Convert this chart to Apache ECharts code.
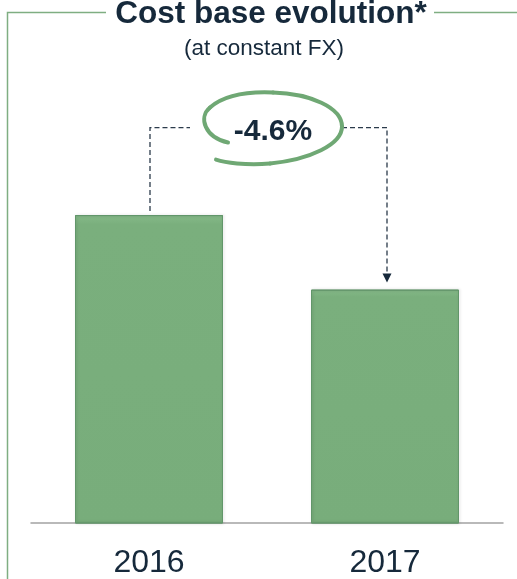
<!DOCTYPE html>
<html>
<head>
<meta charset="utf-8">
<script src="https://cdn.jsdelivr.net/npm/echarts@6/dist/echarts.min.js"></script>
<style>
html,body{margin:0;padding:0;background:#fff;}
#c{width:517px;height:579px;}
</style>
</head>
<body>
<div id="c"></div>
<script>
// Data
const categories = ['2016', '2017'];
const costIndex = [100, 95.4];          // cost base, indexed (2016 = 100)
const changeLabel = '-4.6%';
const axisMin = 81;
const axisMax = 107.1;
const connectorLevel = 105.4;           // level (in axis units) of the dashed connector

const titleText = 'Cost base evolution*';
const subtitleText = '(at constant FX)';

const dark = '#16293b';
const frameGreen = '#7fae82';

const chart = echarts.init(document.getElementById('c'), null, {renderer: 'canvas'});

const option = {
  animation: false,
  backgroundColor: '#fff',
  grid: {left: 31, right: 14, top: 100, bottom: 56, containLabel: false},
  xAxis: {
    type: 'category',
    data: categories,
    axisLine: {show: true, lineStyle: {color: '#a3a3a3', width: 1.5}},
    axisTick: {show: false},
    axisLabel: {color: dark, fontSize: 32, fontFamily: 'Liberation Sans, Arial, sans-serif', margin: 24}
  },
  yAxis: {
    type: 'value', min: axisMin, max: axisMax, show: false,
    splitLine: {show: false}
  },
  series: [{
    type: 'bar',
    data: costIndex,
    barWidth: 148,
    itemStyle: {
      color: {
        type: 'linear', x: 0, y: 0, x2: 0, y2: 1,
        colorStops: [{offset: 0, color: '#86ba89'}, {offset: 0.03, color: '#7aaf7d'}, {offset: 1, color: '#78ad7b'}]
      },
      borderColor: '#62966a',
      borderWidth: 1,
      shadowColor: 'rgba(0,0,0,0.18)',
      shadowBlur: 3,
      shadowOffsetX: 1,
      shadowOffsetY: 0
    },
    z: 2
  }]
};
chart.setOption(option);

function buildGraphics() {
  const p0 = chart.convertToPixel({xAxisIndex: 0, yAxisIndex: 0}, [0, costIndex[0]]);
  const p1 = chart.convertToPixel({xAxisIndex: 0, yAxisIndex: 0}, [1, costIndex[1]]);
  const lvl = chart.convertToPixel({yAxisIndex: 0}, connectorLevel);
  const cx = 273, cy = lvl;  // ellipse centre
  const x0 = p0[0] + 1, x1 = p1[0] + 2;
  const dash = {stroke: '#2b3b4b', lineWidth: 1.3, lineDash: [5, 3]};
  const els = [];
  // frame
  els.push({type: 'polyline', shape: {points: [[106, 12.5], [7.5, 12.5], [7.5, 579]]}, style: {stroke: frameGreen, lineWidth: 1.5, fill: null}, silent: true});
  els.push({type: 'line', shape: {x1: 434, y1: 12.5, x2: 517, y2: 12.5}, style: {stroke: frameGreen, lineWidth: 1.5}, silent: true});
  // title (top-aligned; baseline ~0.77em below top)
  els.push({type: 'text', x: 271, y: -2, style: {text: titleText, fill: dark, font: 'bold 31.5px "Liberation Sans", Arial, sans-serif', align: 'center', verticalAlign: 'top'}});
  els.push({type: 'text', x: 264, y: 37, style: {text: subtitleText, fill: dark, font: '22.5px "Liberation Sans", Arial, sans-serif', align: 'center', verticalAlign: 'top'}});
  // connectors
  els.push({type: 'polyline', shape: {points: [[x0, p0[1] - 4], [x0, cy], [190, cy]]}, style: Object.assign({fill: null}, dash)});
  els.push({type: 'polyline', shape: {points: [[342, cy], [x1, cy], [x1, p1[1] - 16]]}, style: Object.assign({fill: null}, dash)});
  els.push({type: 'polygon', shape: {points: [[x1 - 4.5, p1[1] - 16], [x1 + 4.5, p1[1] - 16], [x1, p1[1] - 7]]}, style: {fill: dark}});
  // hand-drawn ellipse as cubic segments
  const segs = [
    [[-45, 15], [-68, 10], [-75, -10], [-63, -20]],
    [[-63, -20], [-48, -33], [-23, -36], [0, -35]],
    [[0, -35], [37, -34], [69, -20], [69, -1]],
    [[69, -1], [69, 17], [37, 32], [-3, 36]],
    [[-3, 36], [-28, 38], [-48, 35], [-57, 32]]
  ];
  segs.forEach(s => {
    els.push({type: 'bezierCurve', shape: {
      x1: cx + s[0][0], y1: cy + s[0][1],
      cpx1: cx + s[1][0], cpy1: cy + s[1][1],
      cpx2: cx + s[2][0], cpy2: cy + s[2][1],
      x2: cx + s[3][0], y2: cy + s[3][1]
    }, style: {stroke: '#6fa874', lineWidth: 4, fill: null, lineCap: 'round'}});
  });
  els.push({type: 'text', x: cx, y: cy - 11, style: {text: changeLabel, fill: dark, font: 'bold 30px "Liberation Sans", Arial, sans-serif', align: 'center', verticalAlign: 'top'}});
  return els;
}
chart.setOption({graphic: {elements: buildGraphics()}});
</script>
</body>
</html>
